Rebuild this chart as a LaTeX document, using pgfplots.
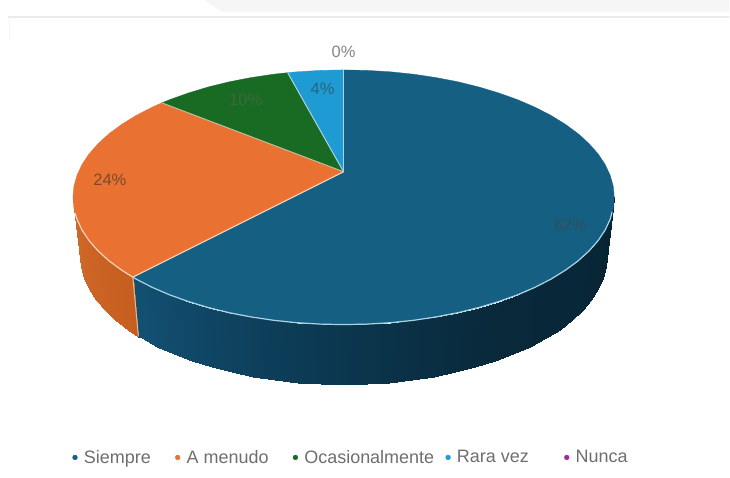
\documentclass[border=0pt]{standalone}
\usepackage{pgfplots}
\pgfplotsset{compat=1.18}
\usepackage{fontspec}
\setmainfont{Liberation Sans}
\definecolor{cblue}{HTML}{156082}
\definecolor{corange}{HTML}{E97132}
\definecolor{cgreen}{HTML}{196B24}
\definecolor{csky}{HTML}{1F9BD3}
\definecolor{cpurple}{HTML}{A02B93}
\definecolor{rimblue}{HTML}{A9D3E3}
\definecolor{rimorange}{HTML}{F8D3B8}
\definecolor{txtgrey}{HTML}{6E6E6E}
\begin{document}
\begin{tikzpicture}
\begin{axis}[
  scale only axis, width=730pt, height=478pt,
  xmin=0, xmax=730, ymin=0, ymax=478, y dir=reverse,
  hide axis, clip=false,
  point meta min=0, point meta max=180,
  colormap={side}{rgb255(0)=(7,36,51); rgb255(60)=(9,42,60); rgb255(90)=(11,54,78); rgb255(140)=(18,80,114); rgb255(141)=(198,94,32); rgb255(180)=(208,106,42)},
  legend style={at={(axis cs:72.5,458)}, anchor=west, draw=none, fill=none, font=\fontsize{18}{21}\selectfont\color{txtgrey},
    /tikz/every odd column/.style={column sep=4.5pt}, inner sep=0pt},
  legend columns=-1,
  legend cell align=left,
]
% page background
\addplot[forget plot, fill=black!3.5, draw=none] coordinates {(205,0)(222,12)(730,12)(730,0)(205,0)};
\addplot[forget plot, draw=black!8, line width=1.8pt] coordinates {(8,17)(730,17)};
\addplot[forget plot, draw=black!4, line width=0.8pt] coordinates {(9,17)(9,40)};
% side wall, Siempre
\addplot[forget plot, surf, shader=interp, mesh/cols=2, point meta=explicit] table[meta=c] {
x y c
615.0 197.5 0
608 256 0
614.0 208.6 5
607 267.2 5
610.9 219.6 10
604 278.4 10
605.8 230.5 15
599 289.4 15
598.7 241.1 20
592.1 300.1 20
589.6 251.4 25
583.3 310.5 25
578.7 261.3 30
572.6 320.5 30
566.0 270.6 35
560.3 330 35
551.6 279.5 40
546.2 338.9 40
535.6 287.7 45
530.7 347.2 45
518.2 295.2 50
513.7 354.8 50
499.4 301.9 55
495.4 361.7 55
479.5 307.9 60
476 367.7 60
458.5 313.1 65
455.6 372.9 65
436.7 317.3 70
434.3 377.2 70
414.1 320.7 75
412.3 380.6 75
391.0 323.1 80
389.8 383 80
367.6 324.5 85
367 384.5 85
344 325.0 90
344 385 90
320.4 324.5 95
321 384.5 95
297.0 323.1 100
298.2 383 100
273.9 320.7 105
275.7 380.6 105
251.3 317.3 110
253.7 377.2 110
229.5 313.1 115
232.4 372.9 115
208.5 307.9 120
212 367.7 120
188.6 301.9 125
192.6 361.7 125
169.8 295.2 130
174.3 354.8 130
152.4 287.7 135
157.3 347.2 135
136.4 279.5 140
141.8 338.9 140
133.0 277.5 140
138.5 337 140
};
% side wall, A menudo
\addplot[forget plot, surf, shader=interp, mesh/cols=2, point meta=explicit] table[meta=c] {
x y c
133.0 277.5 141
138.5 337 141
122.0 270.6 145
127.7 330 145
109.3 261.3 150
115.4 320.5 150
98.4 251.4 155
104.7 310.5 155
89.3 241.1 160
95.9 300.1 160
82.2 230.5 165
89 289.4 165
77.1 219.6 170
84 278.4 170
74.0 208.6 175
81 267.2 175
73.0 197.5 180
80 256 180
};
% top face, Siempre 62
\addplot[forget plot, fill=cblue, draw=cblue, line width=0.3pt] coordinates {
(344,172)(344,70)(367.6,70.5)(391.0,71.9)(414.1,74.3)(436.7,77.7)(458.5,81.9)(479.5,87.1)(499.4,93.1)(518.2,99.8)(535.6,107.3)(551.6,115.5)(566.0,124.4)(578.7,133.7)(589.6,143.6)(598.7,153.9)(605.8,164.5)(610.9,175.4)(614.0,186.4)
(615.0,197.5)(614.0,208.6)(610.9,219.6)(605.8,230.5)(598.7,241.1)(589.6,251.4)(578.7,261.3)(566.0,270.6)(551.6,279.5)(535.6,287.7)(518.2,295.2)(499.4,301.9)(479.5,307.9)(458.5,313.1)(436.7,317.3)(414.1,320.7)(391.0,323.1)(367.6,324.5)(344,325.0)
(320.4,324.5)(297.0,323.1)(273.9,320.7)(251.3,317.3)(229.5,313.1)(208.5,307.9)(188.6,301.9)(169.8,295.2)(152.4,287.7)(136.4,279.5)(133.0,277.5)(344,172)};
% top face, A menudo 24
\addplot[forget plot, fill=corange, draw=corange, line width=0.3pt] coordinates {
(344,172)(133.0,277.5)(122.0,270.6)(109.3,261.3)(98.4,251.4)(89.3,241.1)(82.2,230.5)(77.1,219.6)(74.0,208.6)(73.0,197.5)(74.0,186.4)(77.1,175.4)(82.2,164.5)(89.3,153.9)(98.4,143.6)(109.3,133.7)(122.0,124.4)(136.4,115.5)(152.4,107.3)(162,103)(344,172)};
% top face, Ocasionalmente 10
\addplot[forget plot, fill=cgreen, draw=cgreen, line width=0.3pt] coordinates {
(344,172)(162,103)(169.8,99.8)(188.6,93.1)(208.5,87.1)(229.5,81.9)(251.3,77.7)(273.9,74.3)(288,72.8)(344,172)};
% top face, Rara vez 4
\addplot[forget plot, fill=csky, draw=csky, line width=0.3pt] coordinates {
(344,172)(288,72.8)(297.0,71.9)(320.4,70.5)(344,70)(344,172)};
% rims and spokes
\addplot[forget plot, draw=rimblue, line width=1.2pt] coordinates {
(612.9,212)(610.9,219.6)(605.8,230.5)(598.7,241.1)(589.6,251.4)(578.7,261.3)(566.0,270.6)(551.6,279.5)(535.6,287.7)(518.2,295.2)(499.4,301.9)(479.5,307.9)(458.5,313.1)(436.7,317.3)(414.1,320.7)(391.0,323.1)(367.6,324.5)(344,325.0)(320.4,324.5)(297.0,323.1)(273.9,320.7)(251.3,317.3)(229.5,313.1)(208.5,307.9)(188.6,301.9)(169.8,295.2)(152.4,287.7)(136.4,279.5)(133.0,277.5)};
\addplot[forget plot, draw=rimorange, line width=1.2pt] coordinates {
(133.0,277.5)(122.0,270.6)(109.3,261.3)(98.4,251.4)(89.3,241.1)(82.2,230.5)(77.1,219.6)(75,213)};
\addplot[forget plot, draw=rimorange, line width=1.2pt] coordinates {(344,172)(133.0,277.5)};
\addplot[forget plot, draw=black!12!rimorange, line width=1pt] coordinates {(133.0,277.5)(138.5,336)};
\addplot[forget plot, draw=rimorange!80!cgreen, line width=1pt] coordinates {(344,172)(162,103)};
\addplot[forget plot, draw=rimblue, line width=1pt] coordinates {(344,172)(288,72.8)};
\addplot[forget plot, draw=rimblue, line width=1pt] coordinates {(344,172)(344,70)};
% legend
\addlegendimage{only marks, mark=*, mark size=2.4pt, color=cblue}
\addlegendentry{\vphantom{Apz}Siempre\rule{22.5pt}{0pt}}
\addlegendimage{only marks, mark=*, mark size=2.4pt, color=corange}
\addlegendentry{\vphantom{Apz}A menudo\rule{22.5pt}{0pt}}
\addlegendimage{only marks, mark=*, mark size=2.4pt, color=cgreen}
\addlegendentry{\vphantom{Apz}Ocasionalmente\rule{9.5pt}{0pt}}
\addlegendimage{only marks, mark=*, mark size=2.4pt, color=csky}
\addlegendentry{\vphantom{Apz}Rara vez\rule{33.5pt}{0pt}}
\addlegendimage{only marks, mark=*, mark size=2.4pt, color=cpurple}
\addlegendentry{\vphantom{Apz}Nunca}
% data labels
\node[font=\fontsize{16.5}{20}\selectfont, text=txtgrey!85] at (axis cs:344,52) {0\%};
\node[font=\fontsize{16.5}{20}\selectfont, text={rgb,255:red,122;green,74;blue,46}] at (axis cs:110,180) {24\%};
\node[font=\fontsize{16.5}{20}\selectfont, text={rgb,255:red,58;green,106;blue,58}] at (axis cs:246,100) {10\%};
\node[font=\fontsize{16.5}{20}\selectfont, text={rgb,255:red,40;green,100;blue,130}] at (axis cs:323,89) {4\%};
\node[font=\fontsize{16.5}{20}\selectfont, text={rgb,255:red,47;green,79;blue,96}] at (axis cs:571,225) {62\%};
\end{axis}
\path (0,0) rectangle (730pt,478pt);
\end{tikzpicture}
\end{document}
